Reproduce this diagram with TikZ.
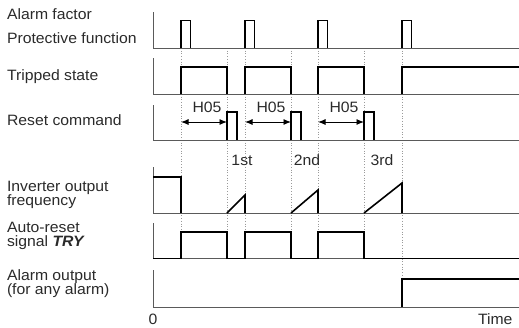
\documentclass[tikz,border=0pt]{standalone}
\usepackage{fontspec}
\setmainfont{Liberation Sans}[FakeStretch=1.05]
\usepackage{tikz}
\usetikzlibrary{positioning,calc,arrows.meta}
\usepackage{xcolor}
\definecolor{axisgray}{HTML}{5A5A5A}
\definecolor{guidegray}{HTML}{9A9A9A}
\definecolor{textgray}{HTML}{2A2A2A}
\newcommand{\lblfont}{\fontsize{15}{15}\selectfont}

\begin{document}
\begin{tikzpicture}[x=1pt,y=-1pt,
  every node/.style={inner sep=0pt,outer sep=0pt},
  lbl/.style={anchor=base west,font=\lblfont,text=textgray},
  tag/.style={anchor=base,font=\lblfont,text=textgray},
  axis/.style={draw=axisgray,line width=0.9pt},
  sig/.style={draw=black,line width=1.6pt,line join=miter},
  guide/.style={draw=guidegray,line width=0.7pt,dotted},
  dim/.style={draw=black,line width=0.9pt,{Latex[length=7.5pt,width=6pt]}-{Latex[length=7.5pt,width=6pt]}}]
\useasboundingbox (0,0) rectangle (519,327);
% dotted guides at the switching instants
\foreach \x in {181,227,245,291,318,364}
  \draw[guide] (\x,48) -- (\x,258.5);
\draw[guide] (402,48) -- (402,307);
% axes of the six rows (top of axis / baseline)
\foreach \top/\base in {12/48,58/94,105/140,167/213,223/258.5,270/307}
  \draw[axis] (153,\top) |- (519,\base);
% ROW 1: alarm factor pulses
\foreach \x in {181,245,318,402}
  \draw[sig] (\x,48) -- (\x,20.5) -- (\x+9.5,20.5) -- (\x+9.5,48);
% ROW 2: tripped state
\foreach \a/\b in {181/227,245/291,318/364}
  \draw[sig] (\a,94) |- (\b,67) -- (\b,94);
\draw[sig] (402,94) |- (519,67);
% ROW 3: reset command pulses and H05 waits
\foreach \x in {227,291,364}
  \draw[sig] (\x,140) |- (\x+10,112) -- (\x+10,140);
\foreach \a/\b/\n in {181/227/h1,245/291/h2,318/364/h3}
  \draw[dim] (\a,122) -- (\b,122) node[midway,tag,yshift=10pt,xshift=3pt] (\n) {H05};
\node[tag] (first) at (242,165) {1st};
\node[tag] (second) at (307,165) {2nd};
\node[tag] (third) at (382,165) {3rd};
% ROW 4: inverter output frequency
\draw[sig] (153,177) -| (181,213);
\draw[sig] (227,213) -- (245,195) -- (245,213);
\draw[sig] (291,213) -- (318,190) -- (318,213);
\draw[sig] (364,213) -- (402,183) -- (402,213);
% ROW 5: auto-reset signal TRY
\draw[sig] (153,258.5) -| (181,232) -| (227,258.5) -| (245,232) -| (291,258.5)
  -| (318,232) -| (364,258.5) -- (519,258.5);
% ROW 6: alarm output
\draw[sig] (402,307) |- (519,279);
% row names
\node[lbl] (alarm) at (7,19.5) {Alarm factor};
\node[lbl] (protect) at (7,43.5) {Protective function};
\node[lbl] (tripped) at (7,80) {Tripped state};
\node[lbl] (reset) at (7,125.5) {Reset command};
\node[lbl] (invout) at (7,191.5) {Inverter output};
\node[lbl] (freq) at (7,205) {frequency};
\node[lbl] (autores) at (7,232.5) {Auto-reset};
\node[lbl] (try) at (7,246.5) {signal \textbf{\textit{TRY}}};
\node[lbl] (almout) at (7,280) {Alarm output};
\node[lbl] (anyalm) at (7,294) {(for any alarm)};
% time axis marks
\node[tag] (zero) at (153,324.5) {0};
\node[lbl] (time) at (478,324.5) {Time};
\end{tikzpicture}
\end{document}
